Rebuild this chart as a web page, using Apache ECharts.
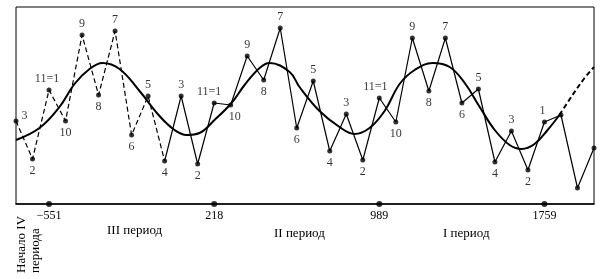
<!DOCTYPE html>
<html><head><meta charset="utf-8">
<script src="https://cdn.jsdelivr.net/npm/echarts@6/dist/echarts.min.js"></script>
<style>html,body{margin:0;padding:0;background:#fff}#c{width:600px;height:279px}</style>
</head><body><div id="c"></div>
<script>
// point order (36 equally spaced points)
const pointLabels = ['3','2','11=1','10','9','8','7','6','5','4','3','2','11=1','10','9','8','7','6','5','4','3','2','11=1','10','9','8','7','6','5','4','3','2','1','','',''];
// zigzag values (arbitrary vertical units)
const zigzag = [83,45,114,83,169,109,173,69,108,43,108,40,101,99,148,124,176,76,123,53,90,44,106,82,166,113,166,101,115,42,73,34,82,89,16,56];
// smooth curve: positions (in point steps) and values
const curvePos = [0,1.42,2.63,3.54,4.45,5.24,6.27,7.48,8.69,9.60,10.33,11.11,12.02,13.05,13.84,14.75,15.35,16.57,17.17,18.38,19.59,20.50,21.41,22.32,23.23,24.14,25.23,26.26,27.17,28.08,28.99,29.89,30.62,31.40,32.19,32.91,33.70,34.43,35];
const curveVal = [64,76,97,120,135,141,135,113,88,74,69,71,84,101,119,136,141,132,117,93,77,70,76,93,120,134,141,137,121,97,74,59,55,60,74,89,109,126,137];
const curveSolidUntil = 32.91; // curve solid to here, dashed after
// year ticks on the axis
const yearTickIdx = [2,12,22,32];
const yearTickLabels = ['\u2212551','218','989','1759'];
const periodLabels = ['III период','II период','I период'];
const dashedUntil = 9;     // zigzag dashed from start to this point

const FONT = '"Liberation Serif","DejaVu Serif",serif';
const categories = zigzag.map((_, i) => String(i));

const labelCfg = {
  0: {position:'right', offset:[0,-5]},
  2: {position:'top', offset:[-2,0]},
  12: {position:'top', offset:[-5,0]},
  13: {position:'bottom', offset:[4,0]},
  22: {position:'top', offset:[-4,0]},
  32: {position:'top', offset:[-2,0]}
};
function labelFor(i){
  if (!pointLabels[i]) return {show:false};
  const v = zigzag[i];
  const prev = i>0 ? zigzag[i-1] : zigzag[i+1];
  const next = i<zigzag.length-1 ? zigzag[i+1] : prev;
  const up = v >= Math.max(prev, next) || (v > Math.min(prev,next) && i%2===0);
  const c = labelCfg[i] || {position: up ? 'top' : 'bottom'};
  return Object.assign({show:true, formatter: pointLabels[i], distance:3, color:'#000', fontSize:12, fontFamily:FONT}, c);
}

const dashedData = zigzag.map((v,i) => i<=dashedUntil ? v : null);
const solidData = zigzag.map((v,i) => i>=dashedUntil ? v : null);
const pointsData = zigzag.map((v,i) => ({value:v, label: labelFor(i)}));
const curveSolid = [], curveDashed = [];
curvePos.forEach((p,i) => {
  if (p <= curveSolidUntil) curveSolid.push([p, curveVal[i]]);
  if (p >= curveSolidUntil) curveDashed.push([p, curveVal[i]]);
});

const chart = echarts.init(document.getElementById('c'), null, {renderer:'canvas'});
chart.setOption({
  animation:false,
  backgroundColor:'#fff',
  grid:{left:16, right:6, top:7, bottom:75, show:true, borderColor:'#000', borderWidth:1},
  xAxis:[{
    type:'category', data:categories, boundaryGap:false,
    axisLine:{show:true, lineStyle:{color:'#000', width:1.6}},
    axisTick:{show:false},
    axisLabel:{interval:0, color:'#000', fontSize:12, fontFamily:FONT, margin:6,
      formatter:(v, idx) => { const k = yearTickIdx.indexOf(idx); return k>=0 ? yearTickLabels[k] : ''; }},
    splitLine:{show:false}
  },{
    type:'value', min:0, max:zigzag.length-1, show:false, splitLine:{show:false}
  }],
  yAxis:{type:'value', min:0, max:197, show:false, splitLine:{show:false}},
  series:[
    {type:'line', xAxisIndex:1, data:curveSolid, smooth:0.4, symbol:'none', lineStyle:{color:'#000', width:2}, z:2},
    {type:'line', xAxisIndex:1, data:curveDashed, smooth:0.4, symbol:'none', lineStyle:{color:'#000', width:2, type:[5,3]}, z:2},
    {type:'line', data:dashedData, symbol:'none', lineStyle:{color:'#000', width:1.2, type:[5,3]}, z:3},
    {type:'line', data:solidData, symbol:'none', lineStyle:{color:'#000', width:1.2}, z:3},
    {type:'scatter', data:pointsData, symbol:'circle', symbolSize:5, itemStyle:{color:'#000'}, z:4},
    {type:'scatter', data:yearTickIdx.map(i => [i, 0]), symbol:'circle', symbolSize:6, itemStyle:{color:'#000'}, clip:false, z:5}
  ],
  graphic:[
    {type:'text', left:107, top:224, style:{text:periodLabels[0], font:'13px '+FONT, fill:'#000'}},
    {type:'text', left:274, top:227, style:{text:periodLabels[1], font:'13px '+FONT, fill:'#000'}},
    {type:'text', left:443, top:227, style:{text:periodLabels[2], font:'13px '+FONT, fill:'#000'}},
    {type:'text', x:22, y:273, rotation:Math.PI/2, style:{text:'Начало IV', font:'13px '+FONT, fill:'#000', textAlign:'left', textVerticalAlign:'middle'}},
    {type:'text', x:36, y:273, rotation:Math.PI/2, style:{text:'периода', font:'13px '+FONT, fill:'#000', textAlign:'left', textVerticalAlign:'middle'}}
  ]
});
</script></body></html>
